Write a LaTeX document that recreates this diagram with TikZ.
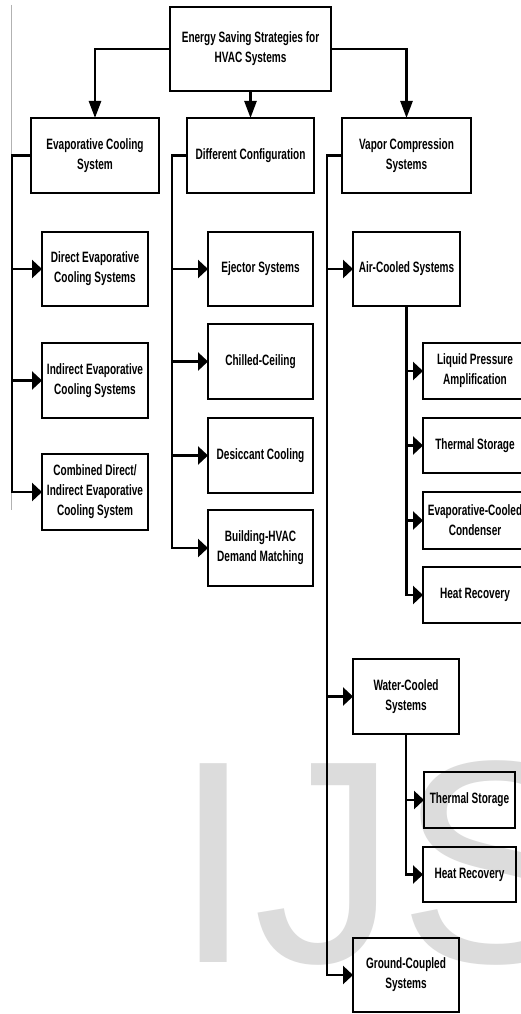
\documentclass[tikz,border=0pt]{standalone}
\usepackage{fontspec}
\usetikzlibrary{arrows.meta}
\newfontfamily\boxfont{Liberation Sans}[FakeStretch=0.67]
\newfontfamily\wmfont{Liberation Sans}
\definecolor{wmgray}{HTML}{DCDCDC}
\tikzset{
  box/.style={draw=black, line width=2.5pt, inner sep=0pt, outer sep=0pt, align=center,
    font={\boxfont\bfseries\fontsize{15}{20}\selectfont}, text=black},
  conn/.style={line width=2.5pt, draw=black},
  varr/.style={conn, -{Triangle[length=17pt,width=12pt]}},
  harr/.style={conn, -{Triangle[length=10pt,width=18pt]}},
}
\begin{document}
\begin{tikzpicture}[x=1pt,y=-1pt]
\useasboundingbox (0,0) rectangle (521,1014);
\clip (0,0) rectangle (521,1014);
\fill[white] (0,0) rectangle (521,1014);
% watermark
\node[anchor=base west, inner sep=0pt, text=wmgray, font={\wmfont\fontsize{289}{300}\selectfont}] (wm) at (173,962) {IJS};
% page edge line
\coordinate (edgeTop) at (11,5);
\coordinate (edgeBot) at (11,510);
\draw[gray!60, line width=1pt] (edgeTop) -- (edgeBot);

% boxes
\node[box, minimum width=161pt, minimum height=84pt] (top) at (250.5,49) {Energy Saving Strategies for\\HVAC Systems};
\node[box, minimum width=128pt, minimum height=75pt] (evap) at (95,155.5) {Evaporative Cooling\\System};
\node[box, minimum width=127pt, minimum height=75pt] (diff) at (250.5,155.5) {Different Configuration};
\node[box, minimum width=129pt, minimum height=75pt] (vapor) at (406.5,155.5) {Vapor Compression\\Systems};

\node[box, minimum width=106pt, minimum height=74pt] (direct) at (95,269) {Direct Evaporative\\Cooling Systems};
\node[box, minimum width=106pt, minimum height=75pt] (indirect) at (95,380.5) {Indirect Evaporative\\Cooling Systems};
\node[box, minimum width=106pt, minimum height=76pt] (combined) at (95,492) {Combined Direct/\\Indirect Evaporative\\Cooling System};

\node[box, minimum width=105pt, minimum height=74pt] (ejector) at (260.5,269) {Ejector Systems};
\node[box, minimum width=105pt, minimum height=75pt] (chilled) at (260.5,361.5) {Chilled-Ceiling};
\node[box, minimum width=105pt, minimum height=75pt] (desiccant) at (260.5,455.5) {Desiccant Cooling};
\node[box, minimum width=105pt, minimum height=76pt] (building) at (260.5,548) {Building-HVAC\\Demand Matching};

\node[box, minimum width=107pt, minimum height=74pt] (air) at (406.5,269) {Air-Cooled Systems};
\node[box, minimum width=104pt, minimum height=56pt] (liquid) at (475,371) {Liquid Pressure\\Amplification};
\node[box, minimum width=104pt, minimum height=55pt] (thermalA) at (475,445.5) {Thermal Storage};
\node[box, minimum width=104pt, minimum height=57pt] (evapcond) at (475,520.5) {Evaporative-Cooled\\Condenser};
\node[box, minimum width=104pt, minimum height=56pt] (heatA) at (475,595) {Heat Recovery};

\node[box, minimum width=106pt, minimum height=75pt] (water) at (406,696.5) {Water-Cooled\\Systems};
\node[box, minimum width=91pt, minimum height=56pt] (thermalB) at (469.5,800) {Thermal Storage};
\node[box, minimum width=93pt, minimum height=55pt] (heatB) at (469.5,874.5) {Heat Recovery};
\node[box, minimum width=106pt, minimum height=74pt] (ground) at (406,975) {Ground-Coupled\\Systems};

% top connectors
\draw[varr] (top.west) -| (evap.north);
\draw[varr] (top.south) -- (diff.north);
\draw[varr] (top.east) -| (vapor.north);

% evaporative branch
\coordinate (eL) at (12,155.5);
\draw[harr] (evap.west) -- (eL) |- (combined.west);
\draw[harr] (eL |- direct.west) -- (direct.west);
\draw[harr] (eL |- indirect.west) -- (indirect.west);

% different configuration branch
\coordinate (dL) at (172,155.5);
\draw[harr] (diff.west) -- (dL) |- (building.west);
\draw[harr] (dL |- ejector.west) -- (ejector.west);
\draw[harr] (dL |- chilled.west) -- (chilled.west);
\draw[harr] (dL |- desiccant.west) -- (desiccant.west);

% vapor compression branch
\coordinate (vL) at (327,155.5);
\draw[harr] (vapor.west) -- (vL) |- (ground.west);
\draw[harr] (vL |- air.west) -- (air.west);
\draw[harr] (vL |- water.west) -- (water.west);

% air-cooled branch
\draw[harr] (air.south) |- (heatA.west);
\draw[harr] (air.south |- liquid.west) -- (liquid.west);
\draw[harr] (air.south |- thermalA.west) -- (thermalA.west);
\draw[harr] (air.south |- evapcond.west) -- (evapcond.west);

% water-cooled branch
\draw[harr] (water.south) |- (heatB.west);
\draw[harr] (water.south |- thermalB.west) -- (thermalB.west);
\end{tikzpicture}
\end{document}
